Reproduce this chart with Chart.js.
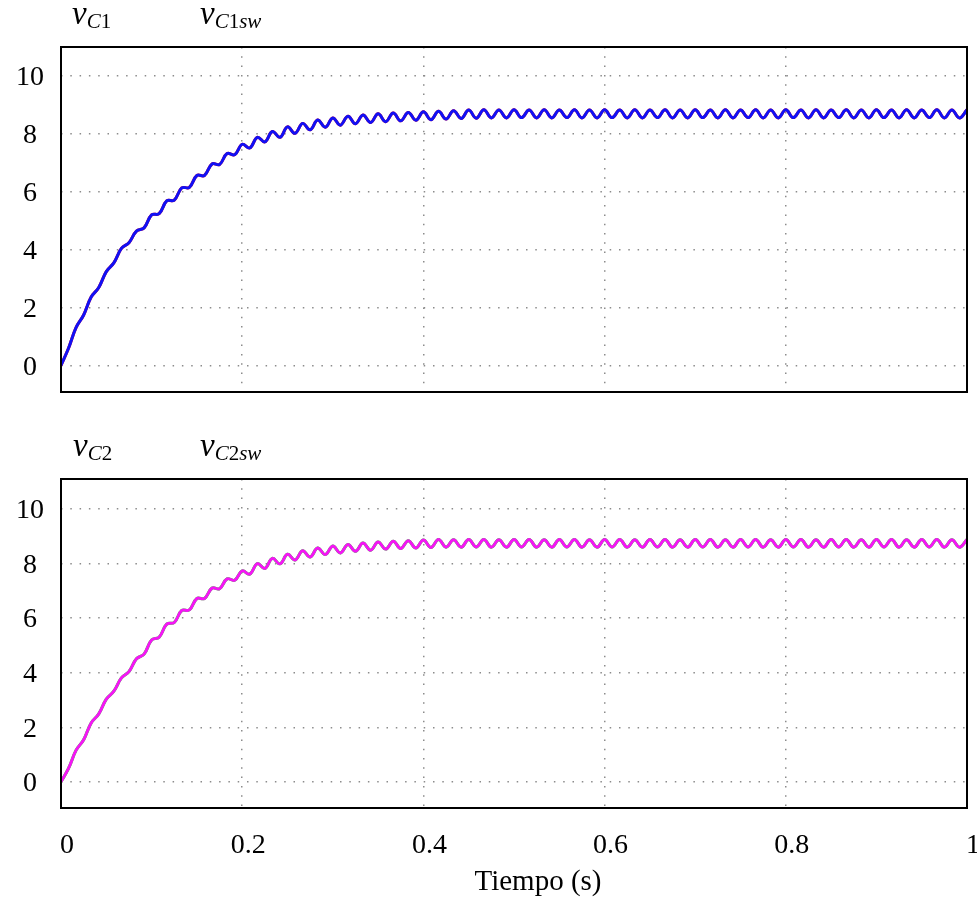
<!DOCTYPE html>
<html>
<head>
<meta charset="utf-8">
<script src="https://cdn.jsdelivr.net/npm/chart.js@4.4.1/dist/chart.umd.min.js"></script>
<style>
body { margin: 0; background: #fff; width: 977px; height: 899px; overflow: hidden; position: relative; font-family: "Liberation Serif", serif; }
canvas { position: absolute; left: 0; }
#c1 { top: 0; }
#c2 { top: 400px; }
.lbl { position: absolute; font-style: italic; font-size: 33px; line-height: 1; white-space: nowrap; }
.lbl sub { font-size: 21px; vertical-align: baseline; position: relative; top: 4px; }
.up { font-style: normal; }
#xt { position: absolute; left: 388px; width: 300px; text-align: center; top: 864px; font-size: 29px; line-height: 32px; }
</style>
</head>
<body>
<canvas id="c1" width="977" height="400"></canvas>
<canvas id="c2" width="977" height="499"></canvas>
<div class="lbl" style="left:72px;top:-3px">v<sub>C<span class="up">1</span></sub></div>
<div class="lbl" style="left:200px;top:-3px">v<sub>C<span class="up">1</span>sw</sub></div>
<div class="lbl" style="left:73px;top:429px">v<sub>C<span class="up">2</span></sub></div>
<div class="lbl" style="left:200px;top:429px">v<sub>C<span class="up">2</span>sw</sub></div>
<div id="xt">Tiempo (s)</div>
<script>
// tiempo (s), un punto cada medio ciclo del rizado
const times = [
  0, 0.0083, 0.0167, 0.025, 0.0333, 0.0417, 0.05, 0.0583, 0.0667, 0.075,
  0.0833, 0.0917, 0.1, 0.1083, 0.1167, 0.125, 0.1333, 0.1417, 0.15, 0.1583,
  0.1667, 0.175, 0.1833, 0.1917, 0.2, 0.2083, 0.2167, 0.225, 0.2333, 0.2417,
  0.25, 0.2583, 0.2667, 0.275, 0.2833, 0.2917, 0.3, 0.3083, 0.3167, 0.325,
  0.3333, 0.3417, 0.35, 0.3583, 0.3667, 0.375, 0.3833, 0.3917, 0.4, 0.4083,
  0.4167, 0.425, 0.4333, 0.4417, 0.45, 0.4583, 0.4667, 0.475, 0.4833, 0.4917,
  0.5, 0.5083, 0.5167, 0.525, 0.5333, 0.5417, 0.55, 0.5583, 0.5667, 0.575,
  0.5833, 0.5917, 0.6, 0.6083, 0.6167, 0.625, 0.6333, 0.6417, 0.65, 0.6583,
  0.6667, 0.675, 0.6833, 0.6917, 0.7, 0.7083, 0.7167, 0.725, 0.7333, 0.7417,
  0.75, 0.7583, 0.7667, 0.775, 0.7833, 0.7917, 0.8, 0.8083, 0.8167, 0.825,
  0.8333, 0.8417, 0.85, 0.8583, 0.8667, 0.875, 0.8833, 0.8917, 0.9, 0.9083,
  0.9167, 0.925, 0.9333, 0.9417, 0.95, 0.9583, 0.9667, 0.975, 0.9833, 0.9917,
  1
];

const vC1 = [
  0.0, 0.59, 1.31, 1.74, 2.36, 2.69, 3.24, 3.54, 4.04, 4.24,
  4.64, 4.75, 5.2, 5.24, 5.68, 5.71, 6.13, 6.15, 6.56, 6.56,
  6.96, 6.94, 7.32, 7.28, 7.64, 7.51, 7.88, 7.72, 8.08, 7.88,
  8.24, 8.02, 8.36, 8.14, 8.48, 8.23, 8.55, 8.30, 8.61, 8.35,
  8.65, 8.39, 8.69, 8.42, 8.72, 8.45, 8.74, 8.47, 8.76, 8.49,
  8.78, 8.51, 8.80, 8.53, 8.82, 8.54, 8.83, 8.55, 8.82, 8.55,
  8.83, 8.56, 8.82, 8.55, 8.83, 8.55, 8.82, 8.56, 8.83, 8.55,
  8.82, 8.55, 8.83, 8.56, 8.82, 8.55, 8.83, 8.55, 8.82, 8.56,
  8.83, 8.55, 8.82, 8.55, 8.83, 8.56, 8.82, 8.55, 8.83, 8.55,
  8.82, 8.56, 8.83, 8.55, 8.82, 8.55, 8.83, 8.56, 8.82, 8.55,
  8.83, 8.55, 8.82, 8.56, 8.83, 8.55, 8.82, 8.55, 8.83, 8.56,
  8.82, 8.55, 8.83, 8.55, 8.82, 8.56, 8.83, 8.55, 8.82, 8.55,
  8.83
];
const vC1sw = vC1;

const vC2 = [
  0.0, 0.49, 1.16, 1.54, 2.16, 2.49, 3.03, 3.32, 3.81, 4.04,
  4.51, 4.68, 5.2, 5.3, 5.78, 5.84, 6.28, 6.3, 6.72, 6.72,
  7.1, 7.08, 7.44, 7.39, 7.73, 7.61, 8.0, 7.82, 8.19, 7.99,
  8.34, 8.13, 8.47, 8.24, 8.57, 8.33, 8.64, 8.39, 8.70, 8.45,
  8.75, 8.49, 8.79, 8.53, 8.82, 8.55, 8.84, 8.57, 8.86, 8.59,
  8.88, 8.60, 8.87, 8.60, 8.88, 8.61, 8.88, 8.60, 8.87, 8.60,
  8.88, 8.61, 8.88, 8.60, 8.87, 8.60, 8.88, 8.61, 8.88, 8.60,
  8.87, 8.60, 8.88, 8.61, 8.88, 8.60, 8.87, 8.60, 8.88, 8.61,
  8.88, 8.60, 8.87, 8.60, 8.88, 8.61, 8.88, 8.60, 8.87, 8.60,
  8.88, 8.61, 8.88, 8.60, 8.87, 8.60, 8.88, 8.61, 8.88, 8.60,
  8.87, 8.60, 8.88, 8.61, 8.88, 8.60, 8.87, 8.60, 8.88, 8.61,
  8.88, 8.60, 8.87, 8.60, 8.88, 8.61, 8.88, 8.60, 8.87, 8.60,
  8.88
];
const vC2sw = vC2;

const xTicks = [0, 0.2, 0.4, 0.6, 0.8, 1];
const yTicks = [0, 2, 4, 6, 8, 10];

const serif = "'Liberation Serif', 'Times New Roman', serif";

const framePlugin = {
  id: "frame",
  afterDraw(chart) {
    const { ctx, chartArea: a } = chart;
    ctx.save();
    ctx.strokeStyle = "#000";
    ctx.lineWidth = 2;
    ctx.strokeRect(a.left, a.top, a.right - a.left, a.bottom - a.top);
    ctx.restore();
  }
};

function pts(vals) {
  return times.map((t, i) => ({ x: t, y: vals[i] }));
}

function line(vals, color) {
  return {
    data: pts(vals),
    borderColor: color,
    borderWidth: 3,
    pointRadius: 0,
    tension: 0.4,
    fill: false
  };
}

function noPad(s) {
  s.paddingTop = 0;
  s.paddingBottom = 0;
  s.paddingLeft = 0;
  s.paddingRight = 0;
}

// el primer dataset se pinta encima
function makeChart(id, over, under, overColor, underColor, showX, padTop, padBottom, yMin, yMax) {
  new Chart(document.getElementById(id), {
    type: "line",
    data: { datasets: [line(over, overColor), line(under, underColor)] },
    plugins: [framePlugin],
    options: {
      responsive: false,
      animation: false,
      layout: { autoPadding: false, padding: { top: padTop, right: 10, bottom: padBottom, left: 0 } },
      plugins: { legend: { display: false }, tooltip: { enabled: false } },
      scales: {
        x: {
          type: "linear",
          min: 0,
          max: 1,
          afterBuildTicks: s => { s.ticks = xTicks.map(v => ({ value: v })); },
          afterFit: s => { s.height = showX ? 91 : 0; noPad(s); },
          grid: { color: "#8c8c8c", lineWidth: 1.5, drawTicks: false },
          border: { display: false, dash: [1.5, 7.8] },
          ticks: {
            display: showX,
            color: "#000",
            font: { family: serif, size: 28 },
            padding: 21,
            labelOffset: 6,
            maxRotation: 0,
            autoSkip: false,
            callback: v => String(v)
          }
        },
        y: {
          min: yMin,
          max: yMax,
          afterBuildTicks: s => { s.ticks = yTicks.map(v => ({ value: v })); },
          afterFit: s => { s.width = 61; noPad(s); },
          grid: { color: "#8c8c8c", lineWidth: 1.5, drawTicks: false },
          border: { display: false, dash: [1.5, 7.8] },
          ticks: {
            color: "#000",
            font: { family: serif, size: 28 },
            crossAlign: "center",
            padding: 17,
            labelOffset: 2
          }
        }
      }
    }
  });
}

makeChart("c1", vC1sw, vC1, "#1010f5", "#ff0000", false, 47, 8, -0.92, 11.0);
makeChart("c2", vC2sw, vC2, "#f515f5", "#00ff00", true, 79, 0, -0.96, 11.1);
</script>
</body>
</html>
